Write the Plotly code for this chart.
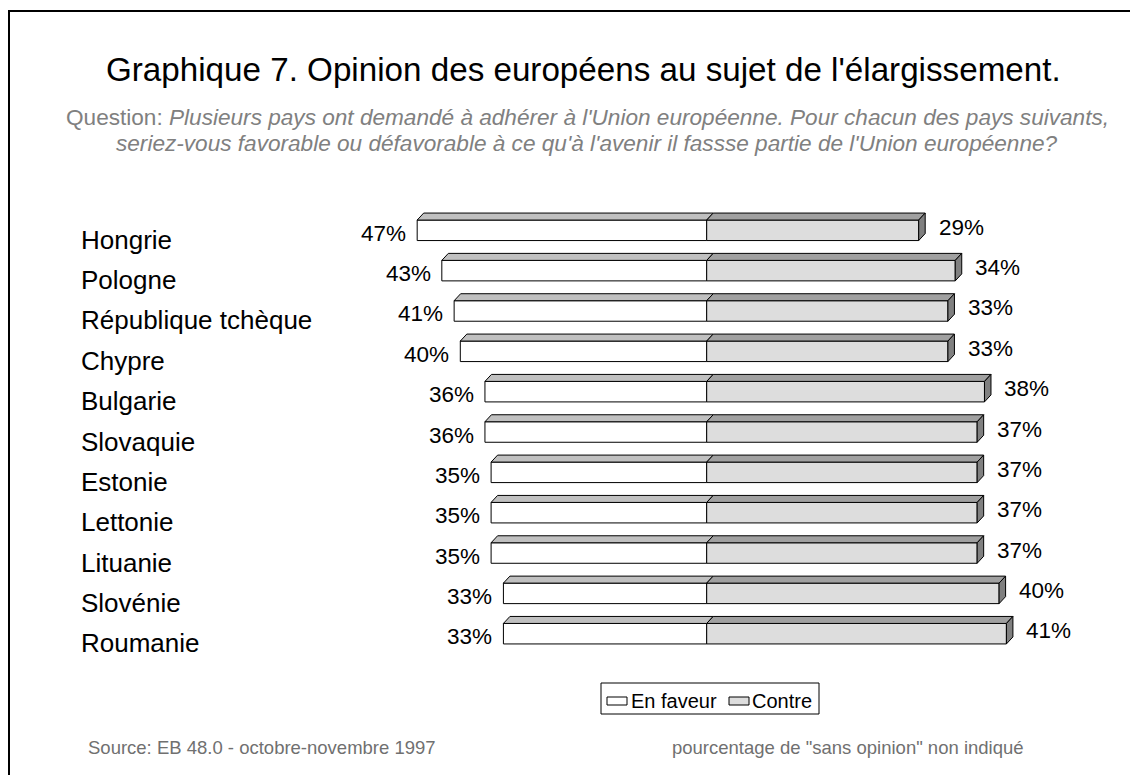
import plotly.graph_objects as go

# ---------------- data ----------------
countries = ["Hongrie", "Pologne", "République tchèque", "Chypre", "Bulgarie",
             "Slovaquie", "Estonie", "Lettonie", "Lituanie", "Slovénie", "Roumanie"]
en_faveur = [47, 43, 41, 40, 36, 36, 35, 35, 35, 33, 33]
contre = [29, 34, 33, 33, 38, 37, 37, 37, 37, 40, 41]
legend_labels = ["En faveur", "Contre"]

title = "Graphique 7. Opinion des européens au sujet de l'élargissement."
sub1 = "Question: <i>Plusieurs pays ont demandé à adhérer à l'Union européenne. Pour chacun des pays suivants,</i>"
sub2 = "<i>seriez-vous favorable ou défavorable à ce qu'à l'avenir il fassse partie de l'Union européenne?</i>"
source = "Source: EB 48.0 - octobre-novembre 1997"
note = "pourcentage de \"sans opinion\" non indiqué"

# ---------------- geometry (window pixels; page has an 8px body margin) ----------------
OFF = 8
W, H = 1138, 775
ML, MR, MT, MB = 289, 46, 182, 113          # figure margins
PW = W - ML - MR
PH = H - MT - MB
CENTER = 706.7 - OFF      # figure pixel of the 0 line
SCALE_L = 6.16            # px per % (left side)
SCALE_R = 7.31            # px per % (right side)
ROW0 = 230.3 - OFF        # figure pixel centre of first row
ROWSTEP = 40.34
BARW = 20.5 / ROWSTEP
DXPX, DYPX = 6.5, 7.0
FONT = "Liberation Sans, Arial, sans-serif"
FAV_COLOR, CON_COLOR = "white", "#dddddd"


def px_x(px):  # window px -> paper x
    return (px - OFF - ML) / PW


def px_y(py):  # window px -> paper y
    return 1 - (py - OFF - MT) / PH


xl_range = [(CENTER - ML) / SCALE_L, -(ML + PW - CENTER) / SCALE_L]
xr_range = [-(CENTER - ML) / SCALE_R, (ML + PW - CENTER) / SCALE_R]
y_range = [(MT + PH - ROW0) / ROWSTEP, -(ROW0 - MT) / ROWSTEP]

dxL = DXPX / SCALE_L
dxR = DXPX / SCALE_R
dy = DYPX / ROWSTEP

idx = list(range(len(countries)))

fig = go.Figure()
fig.add_trace(go.Bar(
    y=idx, x=en_faveur, orientation="h", xaxis="x", yaxis="y", width=BARW,
    name=legend_labels[0], marker=dict(color=FAV_COLOR, line=dict(color="black", width=1)),
    hoverinfo="skip", showlegend=False))
fig.add_trace(go.Bar(
    y=idx, x=contre, orientation="h", xaxis="x2", yaxis="y", width=BARW,
    name=legend_labels[1], marker=dict(color=CON_COLOR, line=dict(color="black", width=1)),
    hoverinfo="skip", showlegend=False))

shapes = []
annotations = []
for i, (f, c) in enumerate(zip(en_faveur, contre)):
    yt = i - BARW / 2
    yb = i + BARW / 2
    shapes.append(dict(type="path", xref="x", yref="y", layer="above",
                       path=f"M{f},{yt} L0,{yt} L{-dxL},{yt-dy} L{f-dxL},{yt-dy} Z",
                       fillcolor="#c0c0c0", line=dict(color="black", width=1)))
    shapes.append(dict(type="path", xref="x2", yref="y", layer="above",
                       path=f"M0,{yt} L{c},{yt} L{c+dxR},{yt-dy} L{dxR},{yt-dy} Z",
                       fillcolor="#a0a0a0", line=dict(color="black", width=1)))
    shapes.append(dict(type="path", xref="x2", yref="y", layer="above",
                       path=f"M{c},{yt} L{c+dxR},{yt-dy} L{c+dxR},{yb-dy} L{c},{yb} Z",
                       fillcolor="#808080", line=dict(color="black", width=1)))
    annotations.append(dict(xref="x", yref="y", x=f, y=i, text=f"{f}%", showarrow=False,
                            xanchor="right", yanchor="middle", xshift=-9, yshift=-3,
                            font=dict(family=FONT, size=22.5, color="black")))
    annotations.append(dict(xref="x2", yref="y", x=c, y=i, text=f"{c}%", showarrow=False,
                            xanchor="left", yanchor="middle", xshift=18, yshift=3,
                            font=dict(family=FONT, size=22.5, color="black")))
    annotations.append(dict(xref="paper", yref="y", x=px_x(79), y=i, text=countries[i],
                            showarrow=False, xanchor="left", yanchor="middle", yshift=-9.5,
                            font=dict(family=FONT, size=26, color="black")))

annotations.append(dict(xref="paper", yref="paper", x=px_x(583), y=px_y(69),
                        text=title, showarrow=False, xanchor="center", yanchor="middle",
                        font=dict(family=FONT, size=33.2, color="black")))
annotations.append(dict(xref="paper", yref="paper", x=px_x(587), y=px_y(117),
                        text=sub1, showarrow=False, xanchor="center", yanchor="middle",
                        font=dict(family=FONT, size=22.6, color="#808080")))
annotations.append(dict(xref="paper", yref="paper", x=px_x(587), y=px_y(143.5),
                        text=sub2, showarrow=False, xanchor="center", yanchor="middle",
                        font=dict(family=FONT, size=22.6, color="#808080")))
annotations.append(dict(xref="paper", yref="paper", x=px_x(86), y=px_y(747),
                        text=source, showarrow=False, xanchor="left", yanchor="middle",
                        font=dict(family=FONT, size=18.5, color="#707070")))
annotations.append(dict(xref="paper", yref="paper", x=px_x(1026), y=px_y(747),
                        text=note, showarrow=False, xanchor="right", yanchor="middle",
                        font=dict(family=FONT, size=18.5, color="#707070")))

# custom legend (box, swatches, labels)
shapes.append(dict(type="rect", xref="paper", yref="paper", x0=px_x(601), x1=px_x(819),
                   y0=px_y(714), y1=px_y(683), line=dict(color="black", width=1),
                   fillcolor="white"))
for sx0, sx1, col, tx, lab in [(607, 627, FAV_COLOR, 629, legend_labels[0]),
                               (729, 749, CON_COLOR, 750, legend_labels[1])]:
    shapes.append(dict(type="rect", xref="paper", yref="paper", x0=px_x(sx0), x1=px_x(sx1),
                       y0=px_y(705), y1=px_y(697), line=dict(color="black", width=1),
                       fillcolor=col))
    annotations.append(dict(xref="paper", yref="paper", x=px_x(tx), y=px_y(701),
                            text=lab, showarrow=False, xanchor="left", yanchor="middle",
                            font=dict(family=FONT, size=20, color="black")))

# outer frame (extends past the right and bottom edges)
shapes.append(dict(type="rect", xref="paper", yref="paper", layer="below",
                   x0=px_x(9), x1=px_x(W + 40), y0=px_y(H + 40), y1=px_y(11),
                   line=dict(color="black", width=2), fillcolor="rgba(0,0,0,0)"))

axis_hidden = dict(visible=False, showgrid=False, zeroline=False, fixedrange=True)
fig.update_layout(
    width=W, height=H,
    margin=dict(l=ML, r=MR, t=MT, b=MB, autoexpand=False),
    paper_bgcolor="white", plot_bgcolor="white",
    xaxis=dict(range=xl_range, **axis_hidden),
    xaxis2=dict(range=xr_range, overlaying="x", **axis_hidden),
    yaxis=dict(range=y_range, **axis_hidden),
    barmode="overlay",
    showlegend=False,
    shapes=shapes,
    annotations=annotations,
)

fig.write_html("out.html")
